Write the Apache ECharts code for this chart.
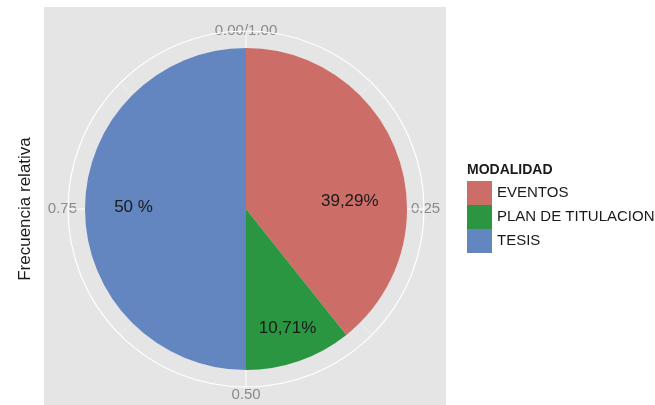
<!DOCTYPE html>
<html>
<head>
<meta charset="utf-8">
<script src="https://cdn.jsdelivr.net/npm/echarts@6/dist/echarts.min.js"></script>
<style>
  html, body { margin: 0; padding: 0; background: #fff; }
  #chart { width: 655px; height: 405px; }
</style>
</head>
<body>
<div id="chart"></div>
<script>
// datos
var modalidades = ["EVENTOS", "PLAN DE TITULACION", "TESIS"];
var frecuencias = [0.3929, 0.1071, 0.5];
var etiquetas = ["39,29%", "10,71%", "50 %"];
var tickLabels = ["0.00/1.00", "0.25", "0.50", "0.75"];
var colores = ["#cd6d67", "#2a9641", "#6386c1"];

// desplazamiento de las etiquetas respecto a la posicion "inside"
var labelShift = [[25, 20], [14, 40], [-29, -2]];
// estilo rico de cada etiqueta del eje angular (arriba, derecha, abajo, izquierda)
var tickRich = ["t", "r", "b", "l"];

var fuente = "Liberation Sans, Arial, sans-serif";
var chart = echarts.init(document.getElementById("chart"));

var tickBase = { fontSize: 15, color: "#8a8a8a", fontFamily: fuente };

var option = {
  animation: false,
  textStyle: { fontFamily: fuente },
  graphic: [
    {
      type: "rect",
      z: -100,
      shape: { x: 44, y: 7, width: 402, height: 398 },
      style: { fill: "#e5e5e5" }
    },
    {
      type: "text",
      x: 25,
      y: 209,
      rotation: Math.PI / 2,
      style: {
        text: "Frecuencia relativa",
        font: "17px " + fuente,
        fill: "#1a1a1a",
        align: "center",
        verticalAlign: "middle"
      }
    }
  ],
  title: {
    text: "MODALIDAD",
    left: 467,
    top: 163,
    padding: 0,
    textStyle: { fontSize: 14, fontWeight: "bold", color: "#1a1a1a", fontFamily: fuente }
  },
  legend: {
    orient: "vertical",
    left: 467,
    top: 181,
    padding: 0,
    itemWidth: 25,
    itemHeight: 24,
    itemGap: 0,
    icon: "rect",
    selectedMode: false,
    data: modalidades,
    textStyle: { fontSize: 15, color: "#1a1a1a", fontFamily: fuente, padding: [3, 0, 0, 0] }
  },
  polar: { center: [246, 209], radius: 178 },
  angleAxis: {
    type: "value",
    min: 0,
    max: 1,
    interval: 0.25,
    startAngle: 90,
    clockwise: true,
    axisLine: { show: true, lineStyle: { color: "#ffffff", width: 1.2 } },
    axisTick: { show: false },
    splitLine: { show: true, lineStyle: { color: "#ffffff", width: 1 } },
    minorTick: { show: false, splitNumber: 2 },
    minorSplitLine: { show: true, lineStyle: { color: "#f4f4f4", width: 0.6 } },
    axisLabel: {
      margin: -13,
      fontSize: 15,
      color: "#8a8a8a",
      fontFamily: fuente,
      formatter: function (v) {
        var i = Math.round(v / 0.25) % 4;
        return "{" + tickRich[i] + "|" + tickLabels[i] + "}";
      },
      rich: {
        t: Object.assign({ padding: [0, 0, 6, 0] }, tickBase),
        r: Object.assign({ padding: [0, 0, 0, 0] }, tickBase),
        b: Object.assign({ padding: [13, 0, 0, 0] }, tickBase),
        l: Object.assign({ padding: [0, 4, 0, 0] }, tickBase)
      }
    }
  },
  radiusAxis: { type: "value", min: 0, max: 1, show: false },
  series: [
    {
      type: "pie",
      center: [246, 209],
      radius: [0, 161],
      startAngle: 90,
      clockwise: true,
      z: 5,
      emphasis: { disabled: true },
      itemStyle: { borderWidth: 0 },
      data: modalidades.map(function (m, i) {
        return { name: m, value: frecuencias[i], itemStyle: { color: colores[i] } };
      }),
      label: {
        position: "inside",
        fontSize: 17,
        color: "#1a1a1a",
        fontFamily: fuente,
        formatter: function (p) { return etiquetas[p.dataIndex]; }
      },
      labelLayout: function (p) {
        return { dx: labelShift[p.dataIndex][0], dy: labelShift[p.dataIndex][1] };
      },
      labelLine: { show: false }
    }
  ]
};

chart.setOption(option);
</script>
</body>
</html>
